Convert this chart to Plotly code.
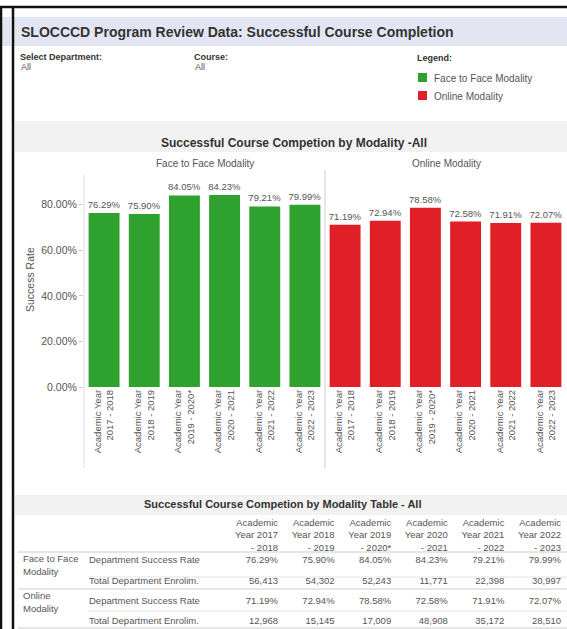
import plotly.graph_objects as go

W, H = 567, 629
FONT = "Liberation Sans, Arial, sans-serif"

# ---------------- data ----------------
years = ["2017 - 2018", "2018 - 2019", "2019 - 2020*", "2020 - 2021", "2021 - 2022", "2022 - 2023"]
modalities = ["Face to Face Modality", "Online Modality"]
f2f_rate = [76.29, 75.90, 84.05, 84.23, 79.21, 79.99]
f2f_enroll = [56413, 54302, 52243, 11771, 22398, 30997]
online_rate = [71.19, 72.94, 78.58, 72.58, 71.91, 72.07]
online_enroll = [12968, 15145, 17009, 48908, 35172, 28510]
ytick_vals = [0, 20, 40, 60, 80]
ytick_text = ["0.00%", "20.00%", "40.00%", "60.00%", "80.00%"]
metrics = ["Department Success Rate", "Total Department Enrolim."]

GREEN = "#2ea12e"
RED = "#e01f26"
TXT = "#555555"


def px(x):
    return x / W


def py(y):
    return 1 - y / H


cats = ["Academic Year<br>" + y for y in years]

fig = go.Figure()
for rates, color, xa, ya in [(f2f_rate, GREEN, "x", "y"), (online_rate, RED, "x2", "y2")]:
    fig.add_trace(go.Bar(
        x=cats, y=rates, xaxis=xa, yaxis=ya,
        marker=dict(color=color, line=dict(width=0)),
        text=[f"{v:.2f}%" for v in rates], textposition="outside",
        textfont=dict(family=FONT, size=9.5, color=TXT),
        constraintext="none", cliponaxis=False, showlegend=False,
        hoverinfo="skip",
    ))

# ---------------- table (on its own axes) ----------------
T_TOP, T_BOT = 512, 629
ROW0, ROWSTEP = 561, 20.3
COL0, COLSTEP = 278, 56.6


def rowu(ypx):
    return (ypx - ROW0) / ROWSTEP


def colu(xpx):
    return (xpx - COL0) / COLSTEP


cols = list(range(len(years)))
header = []
for y in years:
    a, b = y.split(" - ")
    header.append(f"Academic<br>Year {a}<br>- {b}")

tfont = dict(family=FONT, size=9.5, color=TXT)
fig.add_trace(go.Scatter(x=cols, y=[rowu(536)] * 6, mode="text", text=header,
                         textposition="middle left", textfont=tfont,
                         xaxis="x3", yaxis="y3", showlegend=False, hoverinfo="skip"))
rows = [
    [f"{v:.2f}%" for v in f2f_rate],
    [f"{v:,}" for v in f2f_enroll],
    [f"{v:.2f}%" for v in online_rate],
    [f"{v:,}" for v in online_enroll],
]
for r, vals in enumerate(rows):
    fig.add_trace(go.Scatter(x=cols, y=[r] * 6, mode="text", text=vals,
                             textposition="middle left", textfont=tfont,
                             xaxis="x3", yaxis="y3", showlegend=False, hoverinfo="skip"))
fig.add_trace(go.Scatter(x=[colu(89)] * 4, y=[0, 1, 2, 3], mode="text",
                         text=metrics * 2, textposition="middle right", textfont=tfont,
                         xaxis="x3", yaxis="y3", showlegend=False, hoverinfo="skip"))
fig.add_trace(go.Scatter(x=[colu(23)] * 2, y=[rowu(566), rowu(603)], mode="text",
                         text=["Face to Face<br>Modality", "Online<br>Modality"],
                         textposition="middle right", textfont=tfont,
                         xaxis="x3", yaxis="y3", showlegend=False, hoverinfo="skip"))

# ---------------- shapes ----------------
shapes = []


def rect(x0, y0, x1, y1, color):
    shapes.append(dict(type="rect", xref="paper", yref="paper", x0=px(x0), x1=px(x1),
                       y0=py(y1), y1=py(y0), fillcolor=color, line=dict(width=0), layer="below"))


def line(x0, y0, x1, y1, color, width=1):
    shapes.append(dict(type="line", xref="paper", yref="paper", x0=px(x0), x1=px(x1),
                       y0=py(y0), y1=py(y1), line=dict(color=color, width=width)))


rect(14, 17, 567, 46, "#e3e6f2")
rect(2, 17, 11, 46, "#e3e6f2")
rect(15, 121, 567, 152, "#f2f2f2")
rect(15, 495, 567, 515, "#f2f2f2")
# frame
line(1, 6, 1, 629, "#111111", 2.5)
line(13, 6, 13, 629, "#111111", 2.5)
line(0, 7, 567, 7, "#111111", 2.5)
# chart separators
line(84, 175, 84, 468, "#dddddd")
line(325, 170, 325, 468, "#cccccc")
# table rules
line(18, 552, 567, 552, "#cccccc")
line(88, 577, 567, 577, "#e2e2e2")
line(18, 589, 567, 589, "#cccccc")
line(88, 611, 567, 611, "#e2e2e2")
line(18, 628, 567, 628, "#cccccc")
# legend swatches
rect(418, 73, 427, 82, GREEN)
rect(418, 91, 427, 100, RED)

# ---------------- annotations ----------------
ann = []


def text(x, y, s, size=9, color=TXT, bold=False, xanchor="left", angle=0):
    ann.append(dict(xref="paper", yref="paper", x=px(x), y=py(y), text=f"<b>{s}</b>" if bold else s,
                    showarrow=False, xanchor=xanchor, yanchor="middle", textangle=angle,
                    font=dict(family=FONT, size=size, color=color)))


text(19, 32, "SLOCCCD Program Review Data: Successful Course Completion", size=14, color="#333333", bold=True)
text(18, 57, "Select Department:", size=9, color="#333333", bold=True)
text(19, 67, "All", size=9)
text(192, 57, "Course:", size=9, color="#333333", bold=True)
text(193, 67, "All", size=9)
text(415, 58, "Legend:", size=9, color="#333333", bold=True)
text(432, 78, "Face to Face Modality", size=10)
text(432, 96, "Online Modality", size=10)
text(294, 143, "Successful Course Competion by Modality -All", size=12, color="#333333", bold=True, xanchor="center")
text(205, 163, modalities[0], size=10, xanchor="center")
text(446, 163, modalities[1], size=10, xanchor="center")
text(30, 280, "Success Rate", size=10.5, xanchor="center", angle=-90)
text(283, 504, "Successful Course Competion by Modality Table - All", size=11, color="#333333", bold=True, xanchor="center")

axis_common = dict(showgrid=False, zeroline=False, showline=False, fixedrange=True)
xtick_font = dict(family=FONT, size=9.5, color=TXT)
fig.update_layout(
    width=W, height=H, margin=dict(l=0, r=0, t=0, b=0),
    paper_bgcolor="white", plot_bgcolor="rgba(0,0,0,0)",
    bargap=0.23, shapes=shapes, annotations=ann,
    font=dict(family=FONT, color=TXT),
    xaxis=dict(domain=[px(84), px(325)], anchor="y", tickangle=-90, ticks="",
               tickfont=xtick_font, automargin=False, **axis_common),
    xaxis2=dict(domain=[px(325), px(566)], anchor="y2", tickangle=-90, ticks="",
                tickfont=xtick_font, automargin=False, **axis_common),
    yaxis=dict(domain=[py(387), py(175)], anchor="x", range=[0, 93],
               tickvals=ytick_vals, ticktext=ytick_text, ticks="outside", ticklen=4,
               tickcolor="#cccccc", tickfont=dict(family=FONT, size=10.5, color=TXT),
               automargin=False, **axis_common),
    yaxis2=dict(domain=[py(387), py(175)], anchor="x2", matches="y", showticklabels=False,
                ticks="", automargin=False, **axis_common),
    xaxis3=dict(domain=[0, 1], anchor="y3", range=[colu(0), colu(W)], visible=False, **axis_common),
    yaxis3=dict(domain=[py(T_BOT), py(T_TOP)], anchor="x3",
                range=[rowu(T_BOT), rowu(T_TOP)], visible=False, **axis_common),
)

fig.write_html("out.html", config={"displayModeBar": False},
               post_script="document.body.style.margin='0';document.body.style.overflow='hidden';")
